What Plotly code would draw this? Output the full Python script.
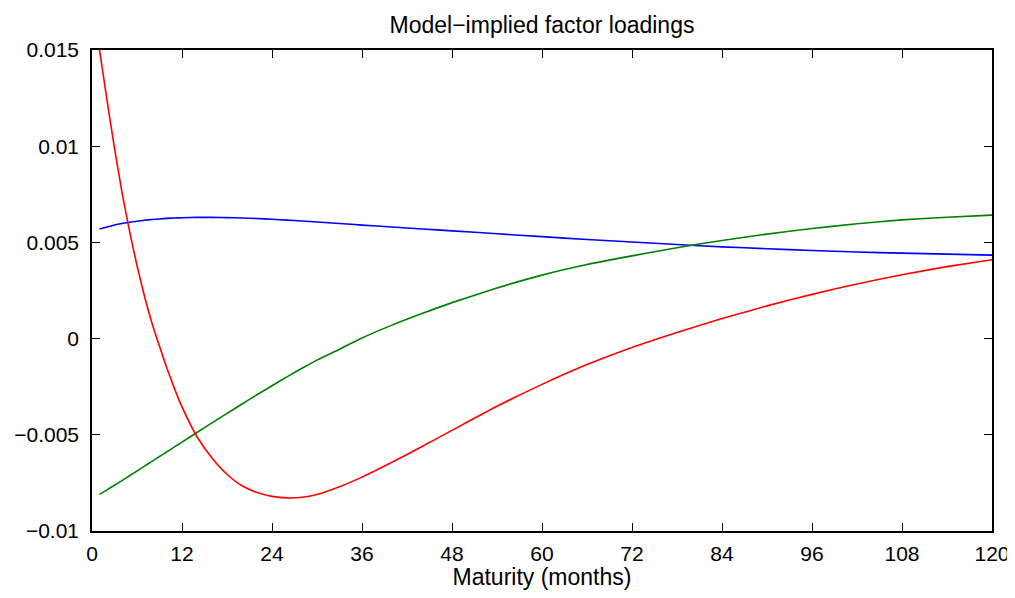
import plotly.graph_objects as go

COLOR_BLUE = "#0000ff"
COLOR_GREEN = "#008000"
COLOR_RED = "#ff0000"
FONT = "Liberation Sans, Arial, Helvetica, sans-serif"

maturity = [1, 2, 3, 4, 5, 6, 7, 8, 9, 10, 11, 12, 14, 16, 18, 20, 22, 24, 26, 28, 30,
            33, 36, 40, 44, 48, 54, 60, 66, 72, 78, 84, 90, 96, 102, 108, 114, 120]

loading_blue = [0.0057, 0.0058, 0.0059, 0.00598, 0.00605, 0.0061, 0.00615, 0.00619, 0.00622,
                0.00625, 0.00627, 0.00628, 0.0063, 0.0063, 0.00629, 0.00627, 0.00624, 0.0062,
                0.00616, 0.00611, 0.00606, 0.00598, 0.0059, 0.0058, 0.0057, 0.0056, 0.00545,
                0.0053, 0.00515, 0.00502, 0.00489, 0.00477, 0.00467, 0.00458, 0.0045, 0.00444,
                0.00439, 0.00434]

loading_green = [-0.0081, -0.00786, -0.00762, -0.00738, -0.00713, -0.00688, -0.00663, -0.00638,
                 -0.00613, -0.00588, -0.00563, -0.00538, -0.00488, -0.00438, -0.00389, -0.0034,
                 -0.00292, -0.00245, -0.00199, -0.00154, -0.00112, -0.00055, 0.00003, 0.0007,
                 0.0013, 0.00187, 0.00263, 0.0033, 0.00385, 0.0043, 0.00472, 0.0051,
                 0.00543, 0.00572, 0.00597, 0.00617, 0.00631, 0.00642]

loading_red = [0.015, 0.0124, 0.0099, 0.0076, 0.0056, 0.0038, 0.0022, 0.0008, -0.0004,
               -0.00155, -0.0026, -0.00355, -0.0051, -0.0062, -0.00705, -0.00765, -0.008,
               -0.0082, -0.00828, -0.00825, -0.0081, -0.0077, -0.0072, -0.00643, -0.00561,
               -0.00477, -0.00352, -0.00238, -0.00135, -0.00046, 0.00032, 0.00104, 0.0017,
               0.0023, 0.00284, 0.00332, 0.00374, 0.0041]

x_ticks = [0, 12, 24, 36, 48, 60, 72, 84, 96, 108, 120]
y_ticks = [-0.01, -0.005, 0, 0.005, 0.01, 0.015]
y_ticktext = ["\u22120.01", "\u22120.005", "0", "0.005", "0.01", "0.015"]

fig = go.Figure()
for values, color in [(loading_blue, COLOR_BLUE), (loading_green, COLOR_GREEN), (loading_red, COLOR_RED)]:
    fig.add_trace(go.Scatter(
        x=maturity, y=values, mode="lines",
        line=dict(color=color, width=1.6, shape="spline", smoothing=0.5),
        showlegend=False,
    ))

axis_style = dict(
    showline=True, linecolor="black", linewidth=1.5, mirror="ticks",
    ticks="inside", ticklen=8, tickwidth=1.2, tickcolor="black",
    showgrid=False, zeroline=False, automargin=False,
    ticklabeloverflow="allow",
    tickfont=dict(family=FONT, size=21, color="black"),
)

# page body has an 8px margin, so the figure is drawn 8px in from the window edge
fig.update_layout(
    width=1007, height=582,
    paper_bgcolor="white", plot_bgcolor="white",
    margin=dict(l=84, r=23, t=42, b=59),
    font=dict(family=FONT, size=21, color="black"),
    title=dict(text="Model\u2212implied factor loadings", x=0.5, xref="paper",
               y=1 - 17 / 582, yref="container", yanchor="middle",
               font=dict(family=FONT, size=23, color="black")),
)
fig.update_xaxes(range=[0, 120], tickvals=x_ticks, ticklabelstandoff=3,
                 title=dict(text="Maturity (months)", standoff=9,
                            font=dict(family=FONT, size=23, color="black")),
                 **axis_style)
fig.update_yaxes(range=[-0.01, 0.015], tickvals=y_ticks, ticktext=y_ticktext,
                 ticklabelstandoff=7, **axis_style)

fig.write_html("out.html")
